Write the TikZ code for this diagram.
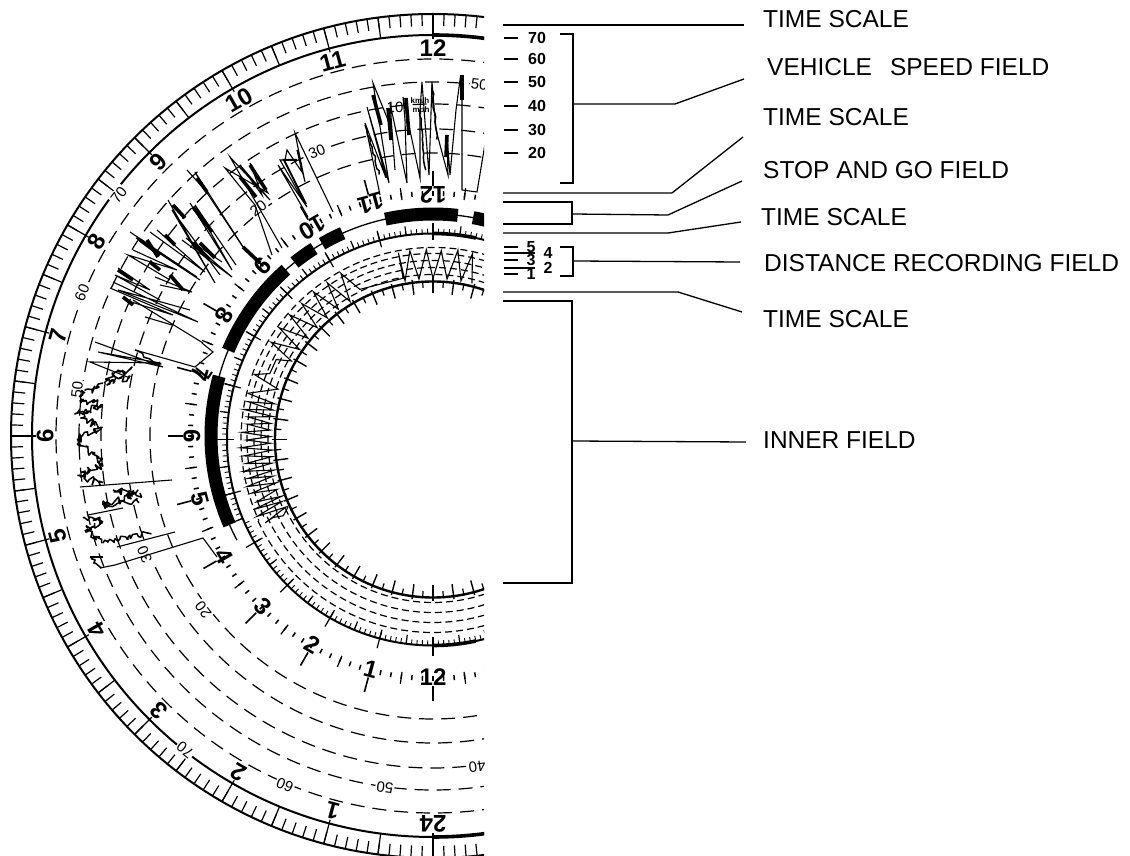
\documentclass[tikz,border=0pt]{standalone}
\usepackage{fontspec}
\setmainfont{Liberation Sans}
\newcommand{\jag}[6]{\draw[noisy] (#1,#2) \foreach \i in {1,...,#6}{ -- ({#1+(#3-#1)*\i/#6+#5*rand},{#2+(#4-#2)*\i/#6+#5*rand}) };}
\begin{document}
\begin{tikzpicture}[
  x=1pt, y=1pt,
  ring/.style={line width=2pt},
  dashring/.style={line width=1.2pt, dash pattern=on 14pt off 8pt},
  fineDash/.style={line width=1.2pt, dash pattern=on 7pt off 4pt},
  tick/.style={line width=1.2pt},
  trace/.style={line width=1.1pt, line join=miter},
  noisy/.style={line width=1.5pt, line join=bevel},
  heavy/.style={line width=3.6pt},
  hournum/.style={font=\fontsize{24}{26}\selectfont\bfseries, inner sep=0pt},
  speednum/.style={font=\fontsize{15}{17}\selectfont, fill=white, inner sep=1.2pt},
  lbl/.style={anchor=west, inner sep=0pt, font=\fontsize{24.5}{28}\selectfont},
  num/.style={inner sep=0pt, font=\fontsize{16}{18}\selectfont\bfseries},
  leader/.style={line width=1.3pt},
  page/.style={shift={(0,855)}, yscale=-1}
]
  \useasboundingbox (0,0) rectangle (1130,855);
  \pgfmathsetseed{17}

  % Chart disc, cut off at the right
  \begin{scope}
  \clip (0,0) rectangle (484,855);
  \begin{scope}[shift={(433,419)}]
    % Outer time scale
    \draw[ring] (0,0) circle [radius=422];
    \draw[ring] (0,0) circle [radius=401];
    \draw[line width=3.6pt] (90:401) arc (90:80:401);
    \draw[line width=3.6pt] (270:401) arc (270:280:401);
    \foreach \a in {0,1.5,...,358.5} \draw[tick] (\a:422) -- (\a:410);
    \foreach \a in {0,7.5,...,352.5} \draw[tick] (\a:422) -- (\a:401);
    \foreach \a in {0,15,...,345} \draw[tick] (\a:401) -- (\a:396);

    % Speed rings
    \foreach \r in {283,307,332,354,377} \draw[dashring] (0,0) circle [radius=\r];
    \foreach \a/\r/\t in {142.5/396/70,157.8/379/60,172.6/359/50,202.4/312/30,217.1/288/20,
                          231.7/400/70,247/379/60,262.2/355/50,277.6/334/40,112.2/307/30,127.5/287/20,82.5/355/50}
      \node[speednum, rotate=\a-90] (spd\t\r) at (\a:\r) {\t};

    % Hour numbers of the outer scale
    \foreach \a/\t in {90/12,105/11,120/10,135/9,150/8,165/7,180/6,195/5,210/4,225/3,240/2,255/1,270/24}
      \node[hournum, rotate=\a-90, fill=white, inner sep=1pt] (outer\t) at (\a:388) {\t};

    % Middle time scale
    \foreach \a in {0,2.5,...,357.5} \draw[line width=1.5pt] (\a:240) -- (\a:245);
    \foreach \a in {7.5,22.5,...,352.5} \draw[tick] (\a:238) -- (\a:250);
    \foreach \a in {0,15,...,345} \draw[line width=1.6pt] (\a:250) -- (\a:265);
    \foreach \a/\t in {270/12,255/1,240/2,225/3,210/4,195/5,180/6,165/7,150/8,135/9,120/10,105/11,90/12}
      \node[hournum, rotate=\a+90] (mid\a) at (\a:241) {\t};

    % Stop and go field
    \draw[line width=1.3pt] (79:222) arc (79:208:222);
    \foreach \s/\e in {64/79.6,83.6/102.4,114/120,122.4/128.6,131.5/157.3,164.4/203.6}
      \draw[line width=13pt] (\s:222) arc (\s:\e:222);
  \end{scope}

  \begin{scope}[shift={(433,415.5)}]
    % Fine time scale
    \draw[ring] (0,0) circle [radius=206];
    \draw[line width=3.6pt] (90:206) arc (90:78:206);
    \draw[line width=3.6pt] (270:206) arc (270:282:206);
    \foreach \a in {60,61.5,...,202.5} \draw[line width=0.9pt] (\a:206) -- (\a:211);
    \foreach \a in {60,67.5,...,202.5} \draw[tick] (\a:206) -- (\a:215);
    \foreach \a in {204,205.5,...,285} \draw[line width=0.9pt] (\a:206) -- (\a:201);
    \foreach \a in {210,217.5,...,285} \draw[tick] (\a:206) -- (\a:197);
    \foreach \a in {0,15,...,345} \draw[tick] (\a:199) -- (\a:216);

    % Distance rings
    \foreach \r in {165,172,179,186,192} \draw[fineDash] (60:\r) arc (60:205:\r);
    \foreach \r in {163,173,183,193} \draw[fineDash] (205:\r) arc (205:300:\r);

    % Inner field scale
    \draw[line width=2.4pt] (0,0) circle [radius=158];
    \foreach \a in {0,7.5,...,352.5} \draw[line width=1.4pt] (\a:161) -- (\a:146);
    \foreach \a in {3.75,11.25,...,356.25} \draw[line width=1.2pt] (\a:159) -- (\a:152);

    % Distance trace
    \draw[trace] (76:161) -- (78:190) -- (80:161) -- (82.5:191) -- (85:161) -- (87.5:189) -- (90:161)
      -- (92:190) -- (95:161) -- (97:190) -- (100:161) -- (100.5:190) -- (100.5:164)
      -- (116:167) -- (119:190) -- (121:161) -- (124:189) -- (126:161) -- (129:190) -- (131:161)
      -- (134:189) -- (136:161) -- (139:190) -- (141:161) -- (144:190) -- (146:161) -- (149:189)
      -- (151:162) -- (153:176) -- (158:176) -- (160:190) -- (162:163) -- (166:191);
    \draw[trace] (166:191) \foreach \i in {1,...,34}{ -- ({166+1.18*\i}:{mod(\i,2)*(160+4*rnd)+(1-mod(\i,2))*(186+7*rnd)}) }
      -- (206:178) -- (207:168) -- (205:160);
  \end{scope}
  \end{scope}

  % Speed trace
  \begin{scope}[page]
    \begin{scope}
    \clip (0,0) rectangle (484,855);
    \draw[trace] (380,195) -- (365,123) -- (386,178) -- (367,107) -- (389,183) -- (373,83) -- (392,130) -- (395,170)
      -- (390,103) -- (407,183) -- (405,120) -- (403,97) -- (420,178) -- (420,110) -- (422,82) -- (429,175)
      -- (432,82) -- (436,130) -- (448,175) -- (447,135) -- (450,175) -- (456,110) -- (460,80) -- (462,100)
      -- (462,190) -- (477,192) -- (487,132);
    \draw[heavy] (462,75) -- (462,100);
    \draw[heavy] (447,135) -- (446,157);
    \draw[heavy] (388,108) -- (391,140);
    \draw[heavy] (406,98) -- (409,135);
    \draw[heavy] (373,95) -- (381,125);
    \jag{365}{125}{380}{175}{1}{14}
    \jag{420}{110}{425}{170}{1}{14}
    \jag{432}{85}{437}{140}{1}{12}

    \draw[trace] (333,212) -- (295,133) -- (305,182) -- (297,150) -- (302,172) -- (287,150) -- (285,160) -- (280,160)
      -- (307,207) -- (278,165) -- (308,217);
    \draw[line width=2pt] (297,160) -- (284,160) -- (306,204);

    \draw[trace] (282,248) -- (230,157) -- (270,200) -- (240,165) -- (262,195) -- (250,163) -- (268,193) -- (225,168)
      -- (255,205) -- (272,255);
    \draw[heavy] (240,177) -- (256,197);
    \draw[heavy] (250,165) -- (266,190);

    \draw[trace] (187,170) -- (205,190) -- (195,172) -- (245,250) -- (262,265);
    \draw[heavy] (243,247) -- (260,263);
    \draw[heavy] (197,178) -- (207,192);
    \draw[trace] (205,190) -- (243,247);

    % Field of streaks left of the nine
    \draw[trace] (168,200) -- (215,283) -- (172,210) -- (220,275);
    \draw[trace] (190,203) -- (232,270) -- (195,205) -- (236,265);
    \draw[trace] (157,230) -- (205,272) -- (150,232);
    \draw[trace] (130,232) -- (197,277) -- (136,238) -- (200,280);
    \draw[trace] (133,250) -- (177,270) -- (128,255) -- (170,280);
    \draw[trace] (182,240) -- (232,277) -- (186,238) -- (222,262);
    \draw[trace] (118,268) -- (150,290) -- (115,275) -- (160,300);
    \draw[trace] (155,277) -- (192,292) -- (160,285);
    \draw[trace] (113,282) -- (198,322) -- (118,290) -- (190,310);
    \draw[trace] (110,288) -- (173,315) -- (125,300);
    \draw[trace] (145,317) -- (172,325);
    \draw[trace] (133,300) -- (203,343);
    \draw[heavy] (140,240) -- (160,255);
    \draw[heavy] (147,240) -- (158,257);
    \draw[heavy] (173,205) -- (185,218);
    \draw[heavy] (193,207) -- (212,232);
    \draw[heavy] (193,243) -- (210,260);
    \draw[heavy] (200,243) -- (215,258);
    \draw[heavy] (165,235) -- (175,245);
    \draw[heavy] (118,270) -- (133,280);
    \draw[heavy] (123,297) -- (133,305);
    \draw[heavy] (170,275) -- (183,290);
    \draw[heavy] (150,262) -- (160,270);

    \draw[trace] (95,342) -- (163,367) -- (98,352) -- (160,363) -- (90,362) -- (130,378);
    \jag{135}{350}{160}{365}{1.5}{10}
    \draw[trace] (135,350) -- (195,367) -- (213,352) -- (202,343);
    \draw[line width=2pt] (196,368) -- (208,378) -- (212,372);

    % Noisy run of the trace
    \jag{130}{377}{103}{383}{4}{18}
    \jag{130}{370}{105}{378}{4}{14}
    \jag{103}{383}{85}{393}{4}{14}
    \jag{85}{393}{80}{400}{4}{8}
    \jag{80}{400}{102}{405}{4}{14}
    \jag{102}{405}{77}{413}{4}{16}
    \jag{77}{413}{100}{427}{4}{16}
    \jag{100}{427}{77}{440}{4}{16}
    \jag{77}{440}{102}{463}{4}{22}
    \jag{102}{463}{80}{477}{4}{20}
    \jag{80}{477}{103}{485}{4}{20}
    \draw[trace] (80,487) -- (172,480);
    \jag{113}{490}{140}{493}{4}{20}
    \jag{140}{493}{103}{505}{4}{24}
    \jag{103}{505}{140}{500}{3}{20}
    \draw[trace] (88,515) -- (123,508);
    \jag{83}{518}{103}{522}{4}{12}
    \jag{103}{522}{85}{530}{4}{12}
    \jag{85}{530}{103}{543}{4}{14}
    \jag{103}{543}{150}{533}{2.5}{26}
    \draw[trace] (117,547) -- (175,532);
    \jag{90}{557}{100}{568}{2}{8}
    \draw[trace] (100,568) -- (115,565) -- (203,538) -- (217,557);
    \draw[trace] (90,557) -- (103,557);
    \end{scope}

    % Small printed marks
    \node[font=\fontsize{15}{17}\selectfont, inner sep=0pt] (kmten) at (395,107) {10};
    \node[font=\fontsize{8}{9}\selectfont\bfseries, inner sep=0pt] (kmh) at (420,101) {km/h};
    \node[font=\fontsize{8}{9}\selectfont\bfseries, inner sep=0pt] (mph) at (421,110) {mph};

    % Legend ticks with speed values
    \foreach \y/\t in {38/70,59/60,82/50,106/40,130/30,153/20} {
      \coordinate (sa\t) at (504,\y);
      \coordinate (sb\t) at (518,\y);
      \draw[leader] (sa\t) -- (sb\t);
      \node[num] (sn\t) at (537,\y) {\t};
    }
    % Legend ticks with distance values
    \foreach \y/\e/\t/\x in {247/518/5/531,253/535/4/548,260/518/3/531,268/535/2/548,274/518/1/531} {
      \coordinate (da\t) at (504,\y);
      \coordinate (db\t) at (\e,\y);
      \draw[leader] (da\t) -- (db\t);
      \node[num] (dn\t) at (\x,\y) {\t};
    }

    % Labels
    \node[lbl] (timeA) at (763,19)  {TIME SCALE};
    \node[lbl] (speed) at (767,67)  {VEHICLE\hspace{18pt}SPEED FIELD};
    \node[lbl] (timeB) at (763,117) {TIME SCALE};
    \node[lbl] (stop)  at (763,170) {STOP AND GO FIELD};
    \node[lbl] (timeC) at (761,217) {TIME SCALE};
    \node[lbl] (dist)  at (764,263) {DISTANCE RECORDING FIELD};
    \node[lbl] (timeD) at (763,319) {TIME SCALE};
    \node[lbl] (inner) at (763,440) {INNER FIELD};

    % Leader lines
    \coordinate (t1a) at (503,25);  \coordinate (t1b) at (744,25);
    \draw[leader] (t1a) -- (t1b);

    \coordinate (v1) at (560,34);  \coordinate (v2) at (573,34);
    \coordinate (v3) at (573,183); \coordinate (v4) at (560,183);
    \coordinate (v5) at (573,104); \coordinate (v6) at (675,104); \coordinate (v7) at (744,79);
    \draw[leader] (v1) -- (v2) -- (v3) -- (v4);
    \draw[leader] (v5) -- (v6) -- (v7);

    \coordinate (t2a) at (503,193); \coordinate (t2b) at (672,193); \coordinate (t2c) at (743,137);
    \draw[leader] (t2a) -- (t2b) -- (t2c);

    \coordinate (g1) at (503,202); \coordinate (g2) at (572,202);
    \coordinate (g3) at (572,224); \coordinate (g4) at (503,224);
    \coordinate (g5) at (572,214); \coordinate (g6) at (668,215); \coordinate (g7) at (742,181);
    \draw[leader] (g1) -- (g2) -- (g3) -- (g4);
    \draw[leader] (g5) -- (g6) -- (g7);

    \coordinate (t3a) at (503,233); \coordinate (t3b) at (668,233); \coordinate (t3c) at (741,222);
    \draw[leader] (t3a) -- (t3b) -- (t3c);

    \coordinate (d1) at (560,247); \coordinate (d2) at (573,247);
    \coordinate (d3) at (573,276); \coordinate (d4) at (560,276);
    \coordinate (d5) at (573,261); \coordinate (d6) at (740,262);
    \draw[leader] (d1) -- (d2) -- (d3) -- (d4);
    \draw[leader] (d5) -- (d6);

    \coordinate (t4a) at (503,292); \coordinate (t4b) at (678,292); \coordinate (t4c) at (742,312);
    \draw[leader] (t4a) -- (t4b) -- (t4c);

    \coordinate (n1) at (503,301); \coordinate (n2) at (572,301);
    \coordinate (n3) at (572,583); \coordinate (n4) at (503,583);
    \coordinate (n5) at (572,441); \coordinate (n6) at (746,442);
    \draw[leader] (n1) -- (n2) -- (n3) -- (n4);
    \draw[leader] (n5) -- (n6);
  \end{scope}
\end{tikzpicture}
\end{document}
